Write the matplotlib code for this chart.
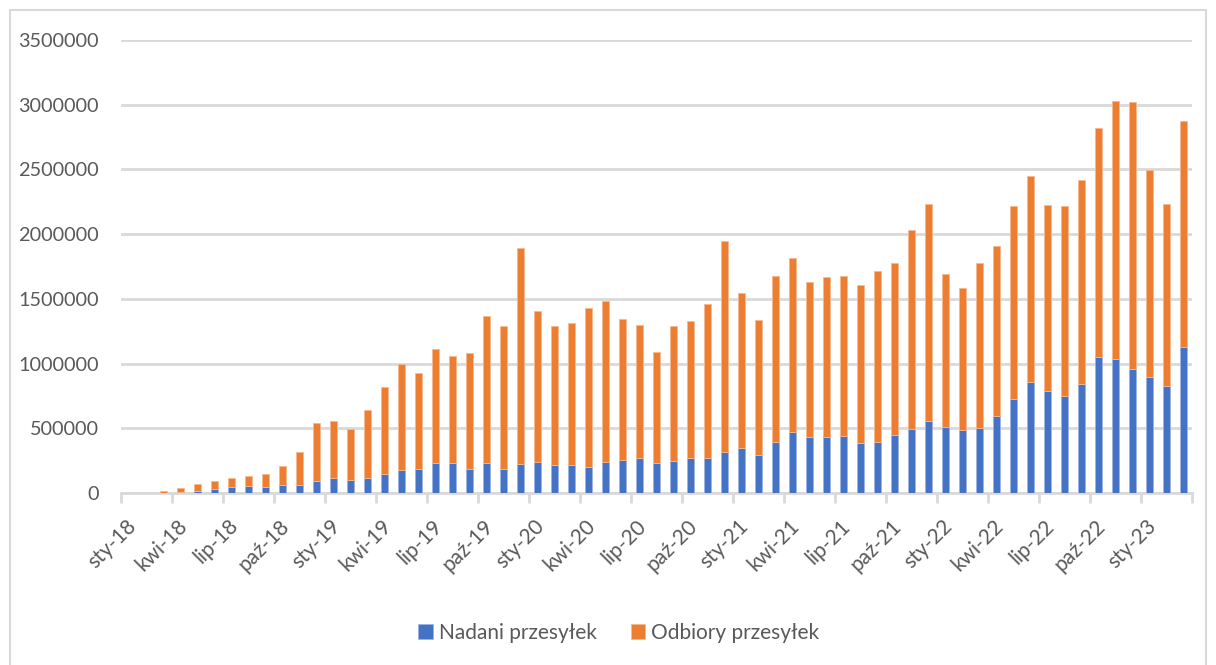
import numpy as np
import pandas as pd
import matplotlib
matplotlib.use("Agg")
import matplotlib.pyplot as plt
from matplotlib.patches import Rectangle
from matplotlib.transforms import ScaledTranslation

plt.rcParams["font.family"] = ["Lato", "DejaVu Sans"]

# miesiące sty-18 .. mar-23
months = pd.date_range("2018-01-01", "2023-03-01", freq="MS")

nadania = [
    0, 0, 2000, 5000, 15000, 33000, 46000, 52000, 44000, 59000, 64000, 90000,
    118000, 100000, 118000, 149000, 175000, 183000, 234000, 229000, 188000, 229000, 188000, 227000,
    237000, 219000, 216000, 203000, 242000, 258000, 273000, 234000, 250000, 273000, 270000, 314000,
    345000, 296000, 391000, 471000, 435000, 433000, 438000, 384000, 394000, 448000, 497000, 559000,
    513000, 490000, 505000, 592000, 729000, 860000, 791000, 752000, 842000, 1053000, 1033000, 961000,
    896000, 829000, 1131000,
]
odbiory = [
    0, 0, 13000, 33000, 55000, 57000, 70000, 77000, 105000, 150000, 253000, 451000,
    436000, 397000, 526000, 668000, 819000, 742000, 879000, 832000, 894000, 1139000, 1103000, 1666000,
    1169000, 1072000, 1098000, 1227000, 1242000, 1087000, 1025000, 853000, 1038000, 1059000, 1191000, 1636000,
    1201000, 1044000, 1286000, 1342000, 1198000, 1236000, 1242000, 1223000, 1319000, 1327000, 1533000, 1674000,
    1177000, 1092000, 1272000, 1319000, 1486000, 1592000, 1435000, 1466000, 1575000, 1765000, 1996000, 2061000,
    1598000, 1404000, 1744000,
]
tick_labels = [
    "sty-18", "kwi-18", "lip-18", "paź-18",
    "sty-19", "kwi-19", "lip-19", "paź-19",
    "sty-20", "kwi-20", "lip-20", "paź-20",
    "sty-21", "kwi-21", "lip-21", "paź-21",
    "sty-22", "kwi-22", "lip-22", "paź-22",
    "sty-23",
]
y_ticks = [0, 500000, 1000000, 1500000, 2000000, 2500000, 3000000, 3500000]

BLUE = "#4472C4"
ORANGE = "#ED7D31"
TEXT = "#595959"
GRID = "#D9D9D9"

fig = plt.figure(figsize=(12.16, 6.65), dpi=100)
ax = fig.add_axes([121 / 1216, 1 - 493 / 665, (1192 - 121) / 1216, (493 - 40) / 665])

# ramka wykresu
fig.patches.append(Rectangle((10 / 1216, -0.02), 1196 / 1216, 1 - 10 / 665 + 0.02,
                             transform=fig.transFigure, fill=False,
                             edgecolor=GRID, linewidth=1.5))

x = np.arange(len(months))
nad = np.array(nadania)
odb = np.array(odbiory)
ax.bar(x, nad, width=0.4, color=BLUE, edgecolor="#9DB4E0", linewidth=0.6,
       label="Nadani przesyłek", zorder=3)
ax.bar(x, odb, width=0.4, bottom=nad, color=ORANGE, edgecolor="#F5B98F",
       linewidth=0.6, label="Odbiory przesyłek", zorder=3)

ax.set_xlim(-0.5, len(months) - 0.5)
ax.set_ylim(0, 3500000)
ax.set_yticks(y_ticks)
ax.set_yticklabels([str(v) for v in y_ticks])
ax.yaxis.grid(True, color=GRID, linewidth=2, zorder=0)
ax.tick_params(axis="y", length=0, pad=16, labelsize=14.3, labelcolor=TEXT)

# znaczniki osi X między kategoriami, co 3 miesiące
tick_pos = np.arange(-0.5, len(months), 3)
ax.set_xticks(tick_pos)
ax.set_xticklabels(tick_labels + [""] * (len(tick_pos) - len(tick_labels)))
ax.tick_params(axis="x", length=7, width=2, color=GRID, labelsize=15,
               labelcolor=TEXT, pad=0)
offset = ScaledTranslation(0.12, -0.20, fig.dpi_scale_trans)
for lab in ax.get_xticklabels():
    lab.set_rotation(45)
    lab.set_rotation_mode("anchor")
    lab.set_ha("right")
    lab.set_va("center")
    lab.set_transform(lab.get_transform() + offset)

for side in ["top", "right", "left"]:
    ax.spines[side].set_visible(False)
ax.spines["bottom"].set_color(GRID)
ax.spines["bottom"].set_linewidth(2)

fig.legend(loc="center", bbox_to_anchor=(619 / 1216, 1 - 633 / 665), ncol=2,
           frameon=False, fontsize=15, labelcolor=TEXT, handlelength=0.7,
           handleheight=0.7, handletextpad=0.3, columnspacing=1.6)

fig.savefig("out.png", dpi=100)
